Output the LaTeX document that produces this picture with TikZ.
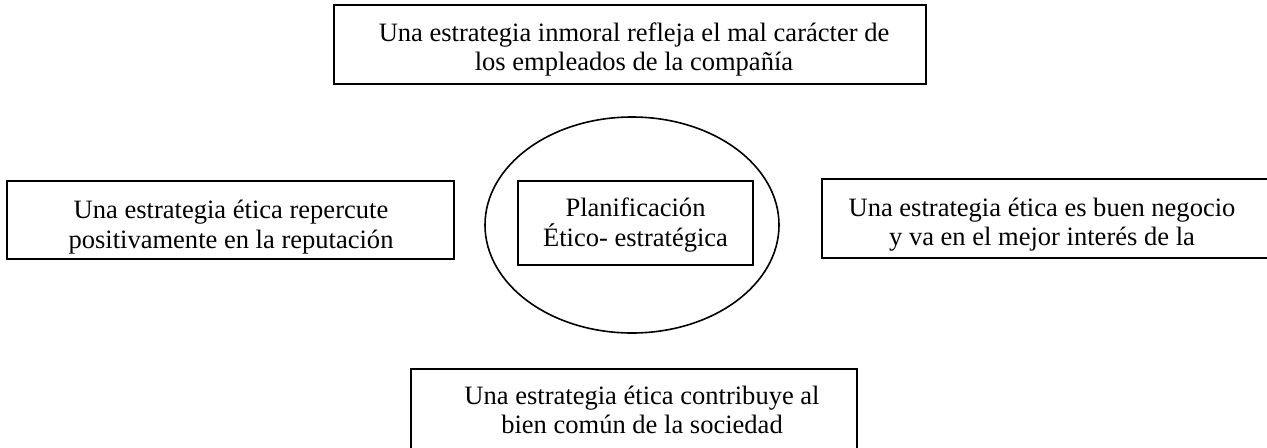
\documentclass[tikz,border=0pt]{standalone}
\usepackage{fontspec}
\setmainfont{Liberation Serif}
\usetikzlibrary{shapes.geometric}
\begin{document}
\begin{tikzpicture}[x=0.75pt,y=-0.75pt,
  box/.style={draw, line width=1.5pt, inner sep=0pt, rectangle},
  oval/.style={draw, line width=1.2pt, inner sep=0pt, ellipse},
  txt/.style={align=center, inner sep=0pt, font=\fontsize{19.9}{22.1}\selectfont}]
\useasboundingbox (0,0) rectangle (1267,447);
\clip (0,0) rectangle (1267,447);
% boxes
\node[box, minimum width=444pt, minimum height=59.25pt] (top) at (630,44.5) {};
\node[box, minimum width=335.25pt, minimum height=58.5pt] (left) at (230.5,220) {};
\node[box, minimum width=336pt, minimum height=59.25pt] (right) at (1046,218.5) {};
\node[box, minimum width=334.5pt, minimum height=64.5pt] (bottom) at (634,412) {};
\node[oval, minimum width=220.5pt, minimum height=162pt] (ell) at (632,225) {};
\node[box, minimum width=176.25pt, minimum height=63pt] (inner) at (635.5,223) {};
% texts
\node[txt] (topt) at (634,49.3) {Una estrategia inmoral refleja el mal carácter de\\los empleados de la compañía};
\node[txt] (leftt) at (231,227.1) {Una estrategia ética repercute\\positivamente en la reputación};
\node[txt] (rightt) at (1042,224.7) {Una estrategia ética es buen negocio\\y va en el mejor interés de la};
\node[txt] (bottomt) at (642,410.1) {Una estrategia ética contribuye al\\bien común de la sociedad};
\node[txt] (innert) at (635.5,225.2) {Planificación\\Ético- estratégica};
\end{tikzpicture}
\end{document}
